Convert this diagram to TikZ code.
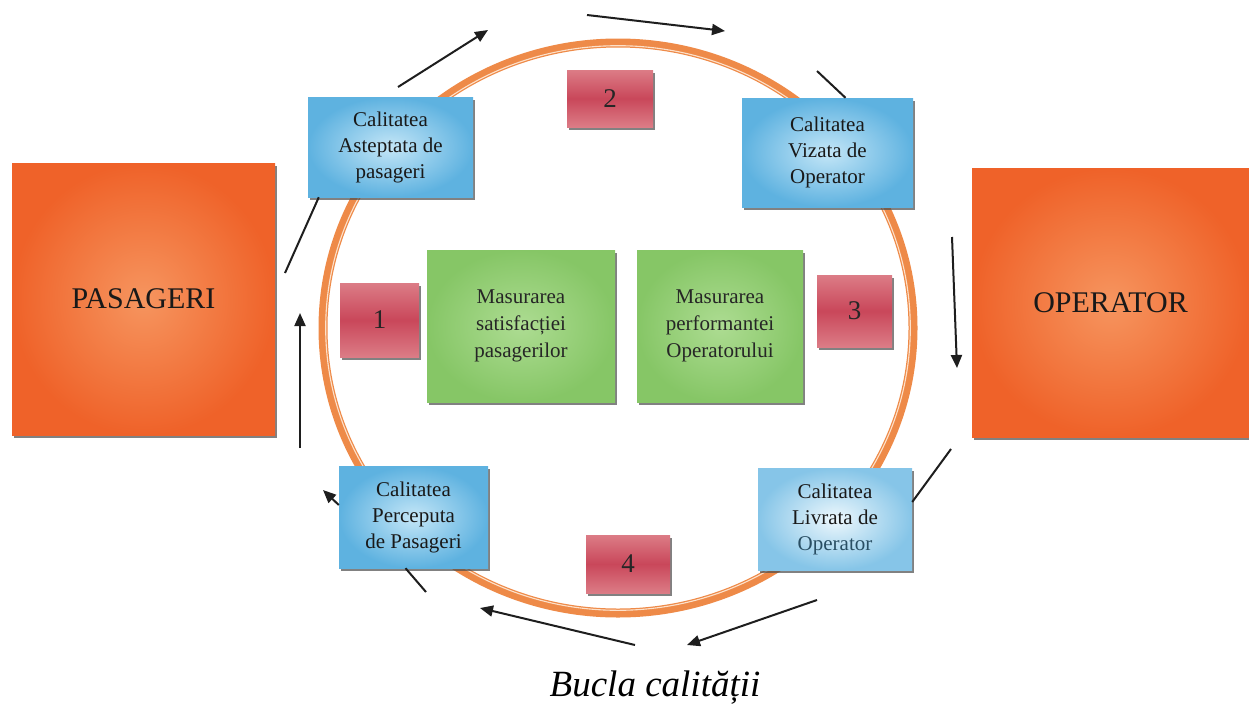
\documentclass[tikz,border=0pt]{standalone}
\usepackage{fontspec}
\setmainfont{Liberation Serif}
\usepackage{tikz}
\usetikzlibrary{shadows, arrows.meta}
\pgfdeclarelayer{bg}
\pgfsetlayers{bg,main}
\definecolor{partyin}{HTML}{F6955F}
\definecolor{partyout}{HTML}{EF6229}
\definecolor{qualin}{HTML}{C4E6F7}
\definecolor{qualout}{HTML}{5EB2E0}
\definecolor{numred}{HTML}{C9475A}
\definecolor{numtop}{HTML}{DC7C86}
\definecolor{measin}{HTML}{ADDC92}
\definecolor{measout}{HTML}{86C666}
\definecolor{ringor}{HTML}{EE8A48}
\definecolor{ringpale}{HTML}{FDE1CA}
\definecolor{flowk}{HTML}{1E1E1E}

\begin{document}
\begin{tikzpicture}[x=1pt, y=-1pt,
    boxshadow/.style={drop shadow={shadow xshift=1.5pt, shadow yshift=-3pt, fill=black!70, opacity=0.7}},
    party/.style={boxshadow, inner color=partyin, outer color=partyout, text=black!90, font=\fontsize{30}{36}\selectfont},
    qual/.style={boxshadow, inner color=qualin, outer color=qualout, align=center, text=black!90, font=\fontsize{21}{26}\selectfont},
    numb/.style={boxshadow, top color=numtop, bottom color=numtop, middle color=numred, text=black!85, font=\fontsize{27}{32}\selectfont},
    meas/.style={boxshadow, inner color=measin, outer color=measout, align=center, text=black!85, font=\fontsize{21}{27}\selectfont},
    flow/.style={draw=flowk, line width=2pt, -{Triangle[length=13pt, width=11pt]}},
    link/.style={draw=flowk, line width=2pt},
  ]
  \useasboundingbox (0,0) rectangle (1249,718);

  % the loop
  \begin{pgfonlayer}{bg}
    \draw[ringor, line width=9pt] (618,328) ellipse [x radius=295pt, y radius=285pt];
    \draw[ringpale, line width=1.1pt] (618,328) ellipse [x radius=292.3pt, y radius=282.3pt];
  \end{pgfonlayer}

  \node[party, minimum width=263pt, minimum height=272pt] (pas) at (143.5,299) {PASAGERI};
  \node[party, minimum width=277pt, minimum height=269pt] (op) at (1110.5,302.5) {OPERATOR};

  \node[qual, minimum width=165pt, minimum height=100pt] (asteptata) at (390.5,147) {Calitatea\\Asteptata de\\pasageri};
  \node[qual, minimum width=171pt, minimum height=109pt] (vizata) at (827.5,152.5) {Calitatea\\Vizata de\\Operator};
  \node[qual, minimum width=149pt, minimum height=102pt] (perceputa) at (413.5,517) {Calitatea\\Perceputa\\de Pasageri};
  \node[qual, inner color=white!70!qualin, outer color=qualout!75, minimum width=154pt, minimum height=102pt] (livrata) at (835,519) {Calitatea\\Livrata de\\\textcolor{black!45!qualout!80!black}{Operator}};

  \node[numb, minimum width=79pt, minimum height=74pt] (n1) at (379.5,320) {1};
  \node[numb, minimum width=86pt, minimum height=57pt] (n2) at (610,98.5) {2};
  \node[numb, minimum width=75pt, minimum height=72pt] (n3) at (854.5,311) {3};
  \node[numb, minimum width=84pt, minimum height=58pt] (n4) at (628,564) {4};

  \node[meas, minimum width=188pt, minimum height=152pt] (satisf) at (521,326) {Masurarea\\satisfacției\\pasagerilor};
  \node[meas, minimum width=166pt, minimum height=152pt] (perf) at (720,326) {Masurarea\\performantei\\Operatorului};

  \coordinate (p1) at (285,273);
  \coordinate (p2) at (300,448);
  \coordinate (p3) at (300,313);
  \coordinate (p4) at (398,87);
  \coordinate (p5) at (488,30);
  \coordinate (p6) at (587,15);
  \coordinate (p7) at (725,31);
  \coordinate (p8) at (817,71);
  \coordinate (p9) at (952,237);
  \coordinate (p10) at (957,368);
  \coordinate (p11) at (951,449);
  \coordinate (p12) at (817,600);
  \coordinate (p13) at (687,645);
  \coordinate (p14) at (635,645);
  \coordinate (p15) at (480,608);
  \coordinate (p16) at (426,592);
  \coordinate (p17) at (323,490);

  \draw[link] (p1) -- ([xshift=11pt]asteptata.south west);
  \draw[flow] (p2) -- (p3);
  \draw[flow] (p4) -- (p5);
  \draw[flow] (p6) -- (p7);
  \draw[link] (p8) -- ([xshift=18pt]vizata.north);
  \draw[flow] (p9) -- (p10);
  \draw[link] (p11) -- ([yshift=17pt]livrata.east);
  \draw[flow] (p12) -- (p13);
  \draw[flow] (p14) -- (p15);
  \draw[link] (p16) -- ([xshift=-8pt]perceputa.south);
  \draw[flow] ([yshift=12pt]perceputa.west) -- (p17);

  \node[font=\itshape\fontsize{37}{44}\selectfont] (title) at (655,688) {Bucla calității};
\end{tikzpicture}
\end{document}
